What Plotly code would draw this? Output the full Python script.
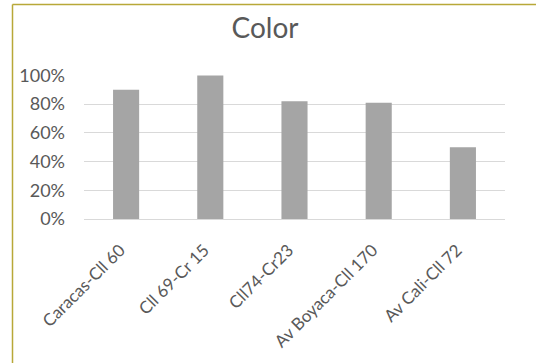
import plotly.graph_objects as go

categories = ["Caracas-Cll 60", "Cll 69-Cr 15", "Cll74-Cr23", "Av Boyaca-Cll 170", "Av Cali-Cll 72"]
values = [0.90, 1.00, 0.82, 0.81, 0.50]
y_ticks = [0, 0.2, 0.4, 0.6, 0.8, 1.0]

FONT = "Lato, Calibri, Carlito, sans-serif"
TEXT = "#595959"

fig = go.Figure(go.Bar(
    x=categories,
    y=values,
    marker=dict(color="#A5A5A5", line=dict(width=0)),
    width=0.31,
))

# plot area spans x 84..505, y 75..219 px; border drawn in paper units
L, R, T, B = 84, 31, 75, 144
W, H = 536, 363
pw, ph = W - L - R, H - T - B

def px_x(px):
    return (px - L) / pw

def px_y(py):
    return (H - B - py) / ph

border = "#B8A838"
fig.add_shape(type="line", xref="paper", yref="paper",
              x0=px_x(12.5), x1=px_x(540), y0=px_y(4.5), y1=px_y(4.5),
              line=dict(color=border, width=1.5))
fig.add_shape(type="line", xref="paper", yref="paper",
              x0=px_x(12.5), x1=px_x(12.5), y0=px_y(4.5), y1=px_y(370),
              line=dict(color=border, width=1.5))

fig.update_layout(
    width=W, height=H,
    margin=dict(l=L, r=R, t=T, b=B, pad=0),
    paper_bgcolor="white",
    plot_bgcolor="white",
    showlegend=False,
    font=dict(family=FONT, color=TEXT, size=17),
    title=dict(text="Color", x=265 / W, xref="container", xanchor="center",
               y=1 - 28 / H, yref="container", yanchor="middle",
               font=dict(family=FONT, size=28, color=TEXT)),
    bargap=0.69,
)
fig.update_xaxes(
    tickangle=-45, showgrid=False, showline=False, ticks="",
    ticklabelstandoff=17, ticklabelshift=-6,
    tickfont=dict(family=FONT, size=17, color=TEXT),
)
fig.update_yaxes(
    range=[0, 1.003], tickvals=y_ticks, tickformat=".0%",
    showgrid=True, gridcolor="#D9D9D9", gridwidth=1,
    zeroline=True, zerolinecolor="#D9D9D9", zerolinewidth=1,
    showline=False, ticks="", ticklabelstandoff=18,
    tickfont=dict(family=FONT, size=18, color=TEXT),
)

fig.write_html("out.html")
